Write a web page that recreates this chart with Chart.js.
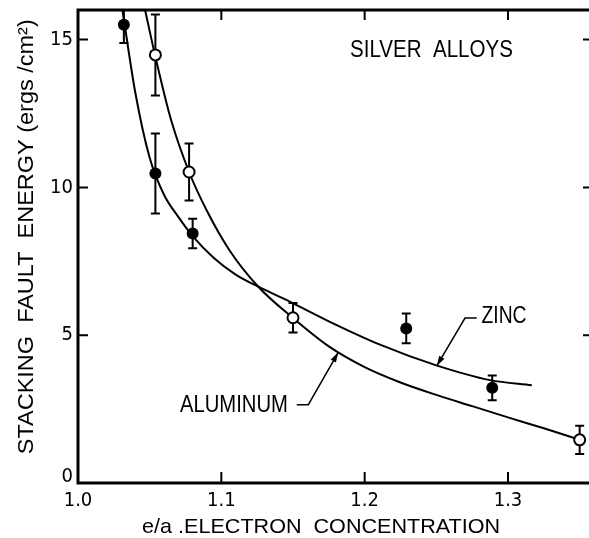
<!DOCTYPE html>
<html lang="en">
<head>
<meta charset="UTF-8">
<title>Silver Alloys - Stacking Fault Energy</title>
<script src="https://cdn.jsdelivr.net/npm/chart.js"></script>
<style>
  html, body { margin: 0; background: #fff; overflow: hidden; }
  canvas { display: block; }
</style>
</head>
<body>
<!-- canvas a little wider than the window: the right frame edge sits just off screen -->
<canvas id="sfeChart" width="594" height="538"></canvas>
<script>
// measured points: filled circles = zinc, open circles = aluminum
const zincX = [1.032, 1.054, 1.080, 1.229, 1.289];
const zincY = [15.5, 10.47, 8.44, 5.23, 3.22];
const zincErr = [0.62, 1.35, 0.5, 0.5, 0.42];

const alX = [1.054, 1.0775, 1.150, 1.350];
const alY = [14.48, 10.52, 5.59, 1.46];
const alErr = [1.37, 0.96, 0.5, 0.48];

// hand drawn curves through the points
const zincCurveX = [1.031, 1.040, 1.050, 1.060, 1.070, 1.080, 1.095, 1.110, 1.1258, 1.148, 1.175, 1.2107, 1.250, 1.2875, 1.3166];
const zincCurveY = [16.0, 13.2, 11.0, 9.75, 9.0, 8.35, 7.6, 7.05, 6.64, 6.13, 5.47, 4.68, 3.98, 3.48, 3.31];

const alCurveX = [1.0468, 1.0537, 1.0647, 1.0775, 1.090, 1.106, 1.1258, 1.1498, 1.175, 1.200, 1.225, 1.250, 1.275, 1.300, 1.325, 1.3503];
const alCurveY = [16.0, 14.48, 12.32, 10.52, 9.2, 7.85, 6.64, 5.59, 4.62, 3.92, 3.40, 2.98, 2.6, 2.22, 1.85, 1.46];

const xTicks = [1.0, 1.1, 1.2, 1.3];
const xTickLabels = ['1.0', '1.1', '1.2', '1.3'];
const yTicks = [0, 5, 10, 15];
const yTickLabels = ['0', '5', '10', '15'];

const xTitle = 'e/a .ELECTRON  CONCENTRATION';
const yTitle = 'STACKING  FAULT  ENERGY (ergs /cm²)';
const plotTitle = 'SILVER  ALLOYS';

const toPts = (xs, ys) => xs.map((x, i) => ({ x: x, y: ys[i] }));

// draw text squeezed/stretched to a given width
function fitText(ctx, text, x, y, size, width, rot) {
  ctx.save();
  ctx.font = size + 'px "Liberation Sans", Arial, sans-serif';
  const w = ctx.measureText(text).width;
  ctx.translate(x, y);
  if (rot) ctx.rotate(rot);
  ctx.scale(width / w, 1);
  ctx.textAlign = 'center';
  ctx.textBaseline = 'middle';
  ctx.fillStyle = '#000';
  ctx.fillText(text, 0, 0);
  ctx.restore();
}

function arrowHead(ctx, x0, y0, x1, y1) {
  const a = Math.atan2(y1 - y0, x1 - x0);
  const len = 10, half = 3;
  ctx.beginPath();
  ctx.moveTo(x1, y1);
  ctx.lineTo(x1 - len * Math.cos(a) + half * Math.sin(a), y1 - len * Math.sin(a) - half * Math.cos(a));
  ctx.lineTo(x1 - len * Math.cos(a) - half * Math.sin(a), y1 - len * Math.sin(a) + half * Math.cos(a));
  ctx.closePath();
  ctx.fill();
}

const errorBars = {
  id: 'errorBars',
  beforeDatasetsDraw(chart) {
    const { ctx, chartArea: a, scales: { x, y } } = chart;
    ctx.save();
    ctx.beginPath();
    ctx.rect(a.left, a.top, a.right - a.left, a.bottom - a.top);
    ctx.clip();
    ctx.strokeStyle = '#000';
    ctx.lineWidth = 2;
    const draw = (xs, ys, es) => {
      xs.forEach((v, i) => {
        const px = x.getPixelForValue(v);
        const top = y.getPixelForValue(ys[i] + es[i]);
        const bot = y.getPixelForValue(ys[i] - es[i]);
        ctx.beginPath();
        ctx.moveTo(px, top); ctx.lineTo(px, bot);
        ctx.moveTo(px - 4.5, top); ctx.lineTo(px + 4.5, top);
        ctx.moveTo(px - 4.5, bot); ctx.lineTo(px + 4.5, bot);
        ctx.stroke();
      });
    };
    draw(zincX, zincY, zincErr);
    draw(alX, alY, alErr);
    ctx.restore();
  }
};

const frame = {
  id: 'frame',
  afterDraw(chart) {
    const { ctx, chartArea: a, scales: { x, y } } = chart;
    ctx.save();
    ctx.strokeStyle = '#000';
    ctx.fillStyle = '#000';

    // box
    ctx.lineWidth = 3;
    ctx.strokeRect(a.left, a.top, a.right - a.left, a.bottom - a.top);

    // inward ticks on all four sides
    ctx.lineWidth = 2;
    ctx.beginPath();
    xTicks.forEach(v => {
      if (v === x.min) return;
      const px = x.getPixelForValue(v);
      ctx.moveTo(px, a.bottom); ctx.lineTo(px, a.bottom - 11);
      ctx.moveTo(px, a.top); ctx.lineTo(px, a.top + 10);
    });
    yTicks.forEach(v => {
      if (v === y.min) return;
      const py = y.getPixelForValue(v);
      ctx.moveTo(a.left, py); ctx.lineTo(a.left + 10, py);
      ctx.moveTo(a.right, py); ctx.lineTo(a.right - 10, py);
    });
    ctx.stroke();

    // tick labels
    ctx.font = '20px "Liberation Sans Narrow", "DejaVu Sans Condensed", sans-serif';
    ctx.textAlign = 'center';
    ctx.textBaseline = 'middle';
    xTicks.forEach((v, i) => {
      ctx.fillText(xTickLabels[i], x.getPixelForValue(v), a.bottom + 18);
    });
    ctx.textAlign = 'right';
    yTicks.forEach((v, i) => {
      const py = y.getPixelForValue(v) - (v === y.min ? 6 : 0);
      ctx.fillText(yTickLabels[i], a.left - 5, py);
    });

    // axis titles and plot caption
    fitText(ctx, xTitle, x.getPixelForValue(1.1696), a.bottom + 44, 21, 358);
    fitText(ctx, yTitle, 27, y.getPixelForValue(8.33), 22, 435, -Math.PI / 2);
    fitText(ctx, plotTitle, x.getPixelForValue(1.2466), y.getPixelForValue(14.62), 23, 163);

    // curve labels with leaders
    fitText(ctx, 'ZINC', x.getPixelForValue(1.2972), y.getPixelForValue(5.64), 23, 45);
    fitText(ctx, 'ALUMINUM', x.getPixelForValue(1.1088), y.getPixelForValue(2.60), 23, 108);

    ctx.lineWidth = 1.5;
    const leader = (pts) => {
      const p = pts.map(d => [x.getPixelForValue(d[0]), y.getPixelForValue(d[1])]);
      ctx.beginPath();
      ctx.moveTo(p[0][0], p[0][1]);
      for (let i = 1; i < p.length; i++) ctx.lineTo(p[i][0], p[i][1]);
      ctx.stroke();
      const n = p.length;
      arrowHead(ctx, p[n - 2][0], p[n - 2][1], p[n - 1][0], p[n - 1][1]);
    };
    leader([[1.1526, 2.65], [1.1607, 2.65], [1.1816, 4.42]]);
    leader([[1.2782, 5.58], [1.2700, 5.58], [1.2503, 3.96]]);
    ctx.restore();
  }
};

new Chart(document.getElementById('sfeChart'), {
  type: 'scatter',
  data: {
    datasets: [
      {
        label: 'Zinc data',
        data: toPts(zincX, zincY),
        pointRadius: 6,
        pointBackgroundColor: '#000',
        pointBorderColor: '#000',
        pointBorderWidth: 0,
        showLine: false
      },
      {
        label: 'Aluminum data',
        data: toPts(alX, alY),
        pointRadius: 5.5,
        pointBackgroundColor: '#fff',
        pointBorderColor: '#000',
        pointBorderWidth: 2,
        showLine: false
      },
      {
        label: 'Zinc',
        data: toPts(zincCurveX, zincCurveY),
        showLine: true,
        pointRadius: 0,
        borderColor: '#000',
        borderWidth: 2,
        cubicInterpolationMode: 'monotone',
        clip: 0
      },
      {
        label: 'Aluminum',
        data: toPts(alCurveX, alCurveY),
        showLine: true,
        pointRadius: 0,
        borderColor: '#000',
        borderWidth: 2,
        cubicInterpolationMode: 'monotone',
        clip: 0
      }
    ]
  },
  options: {
    responsive: false,
    animation: false,
    layout: {
      autoPadding: false,
      padding: { left: 78, right: 1, top: 10, bottom: 55 }
    },
    plugins: {
      legend: { display: false },
      tooltip: { enabled: false }
    },
    scales: {
      x: { type: 'linear', min: 1.0, max: 1.3593, display: false },
      y: { type: 'linear', min: 0, max: 16, display: false }
    }
  },
  plugins: [errorBars, frame]
});
</script>
</body>
</html>
